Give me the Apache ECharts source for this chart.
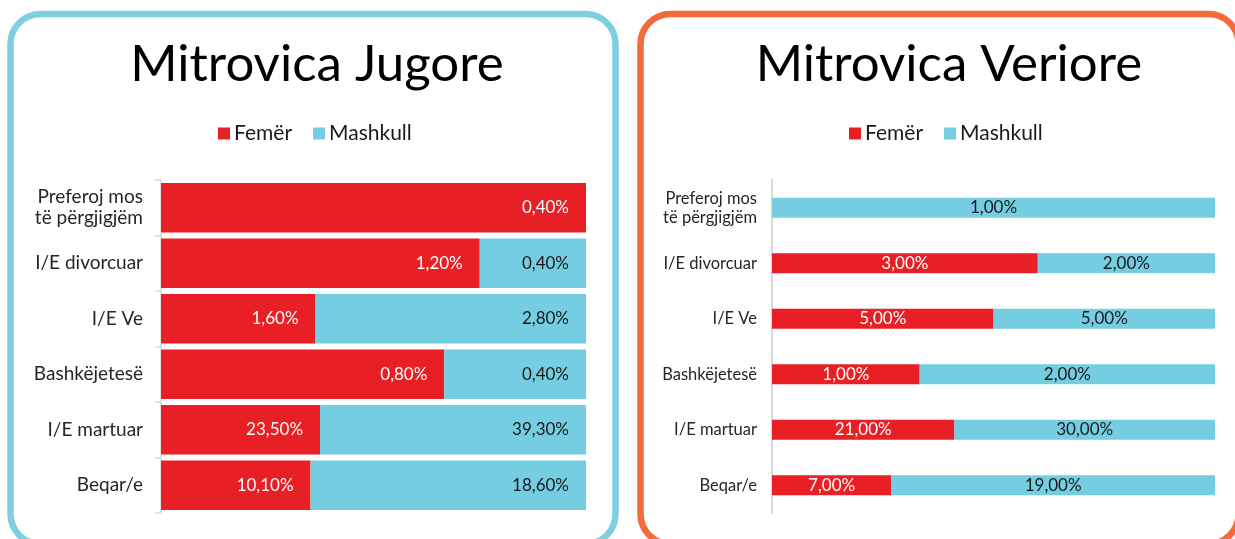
<!DOCTYPE html>
<html>
<head>
<meta charset="utf-8">
<script src="https://cdn.jsdelivr.net/npm/echarts@6/dist/echarts.min.js"></script>
<style>
  html, body { margin: 0; padding: 0; background: #fff; }
  #chart { width: 1235px; height: 539px; }
</style>
</head>
<body>
<div id="chart"></div>
<script>
// kategorite, nga lart poshte
const categories = ['Preferoj mos\ntë përgjigjëm', 'I/E divorcuar', 'I/E Ve', 'Bashkëjetesë', 'I/E martuar', 'Beqar/e']
// Mitrovica Jugore (%)
const jugoreFemer = [0.40, 1.20, 1.60, 0.80, 23.50, 10.10]
const jugoreMashkull = [0, 0.40, 2.80, 0.40, 39.30, 18.60]
// Mitrovica Veriore (%)
const verioreFemer = [0, 3.00, 5.00, 1.00, 21.00, 7.00]
const verioreMashkull = [1.00, 2.00, 5.00, 2.00, 30.00, 19.00]

const RED = '#e82025'
const BLUE = '#74cde0'
const FONT = 'Lato'

// pjesa e secilit ne shirit 100%
function share (a, b) {
  return a.map((v, i) => ({ value: (a[i] + b[i]) ? v / (a[i] + b[i]) * 100 : 0, raw: v }))
}
function fmt (p) {
  const raw = p.data.raw
  return raw ? raw.toFixed(2).replace('.', ',') + '%' : ''
}

function barSeries (name, data, idx, color, labelColor, pos, dist, width) {
  return {
    name: name,
    type: 'bar',
    stack: 'total' + idx,
    xAxisIndex: idx,
    yAxisIndex: idx,
    data: data,
    barWidth: width,
    barCategoryGap: '11%',
    itemStyle: { color: color },
    label: {
      show: true,
      position: pos,
      distance: dist,
      formatter: fmt,
      color: labelColor,
      fontFamily: FONT,
      fontSize: 17
    }
  }
}

const legendStyle = { fontFamily: FONT, fontSize: 21, color: '#1a1a1a', padding: [0, 0, 0, -1] }

const chart = echarts.init(document.getElementById('chart'))
chart.setOption({
  animation: false,
  textStyle: { fontFamily: FONT },
  graphic: [
    {
      type: 'rect',
      shape: { x: 10.5, y: 14, width: 605, height: 530, r: 30 },
      style: { fill: 'none', stroke: '#7ed0e1', lineWidth: 6.5 }
    },
    {
      type: 'rect',
      shape: { x: 640.5, y: 14, width: 598, height: 530, r: 30 },
      style: { fill: 'none', stroke: '#f36b3b', lineWidth: 6.5 }
    }
  ],
  title: [
    {
      text: 'Mitrovica Jugore',
      left: 312,
      top: 34,
      textAlign: 'center',
      textStyle: { fontFamily: FONT, fontWeight: 'normal', fontSize: 51, color: '#000' }
    },
    {
      text: 'Mitrovica Veriore',
      left: 944,
      top: 34,
      textAlign: 'center',
      textStyle: { fontFamily: FONT, fontWeight: 'normal', fontSize: 51, color: '#000' }
    }
  ],
  legend: [
    {
      data: ['Femër', 'Mashkull'],
      left: 213,
      top: 118,
      icon: 'rect',
      itemWidth: 12,
      itemHeight: 12,
      itemGap: 21,
      textStyle: legendStyle
    },
    {
      data: ['Femër', 'Mashkull'],
      left: 844,
      top: 118,
      icon: 'rect',
      itemWidth: 12,
      itemHeight: 12,
      itemGap: 21,
      textStyle: legendStyle
    }
  ],
  grid: [
    { left: 161, top: 180, width: 425, height: 333 },
    { left: 772, top: 180, width: 443, height: 333 }
  ],
  xAxis: [
    { type: 'value', gridIndex: 0, min: 0, max: 100, show: false },
    { type: 'value', gridIndex: 1, min: 0, max: 100, show: false }
  ],
  yAxis: [
    {
      type: 'category',
      gridIndex: 0,
      inverse: true,
      data: categories,
      axisLine: { lineStyle: { color: '#d9d9d9', width: 1.5 } },
      axisTick: { show: true, length: 6, lineStyle: { color: '#d9d9d9', width: 1.5 } },
      axisLabel: { color: '#262626', fontFamily: FONT, fontSize: 19, margin: 18, lineHeight: 21 }
    },
    {
      type: 'category',
      gridIndex: 1,
      inverse: true,
      data: categories,
      axisLine: { lineStyle: { color: '#d9d9d9', width: 2 } },
      axisTick: { show: false },
      axisLabel: { color: '#262626', fontFamily: FONT, fontSize: 16.5, margin: 15, lineHeight: 19 }
    }
  ],
  series: [
    barSeries('Femër', share(jugoreFemer, jugoreMashkull), 0, RED, '#fff', 'insideRight', 17),
    barSeries('Mashkull', share(jugoreMashkull, jugoreFemer), 0, BLUE, '#1a1a1a', 'insideRight', 17),
    barSeries('Femër', share(verioreFemer, verioreMashkull), 1, RED, '#fff', 'inside', 0, 20),
    barSeries('Mashkull', share(verioreMashkull, verioreFemer), 1, BLUE, '#1a1a1a', 'inside', 0, 20)
  ]
})
</script>
</body>
</html>
